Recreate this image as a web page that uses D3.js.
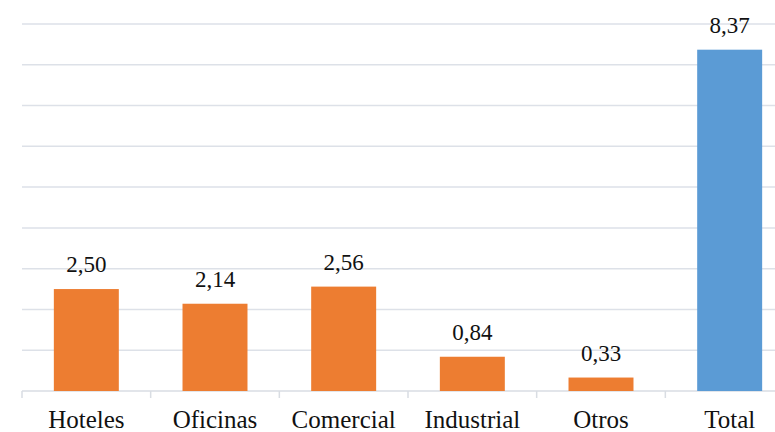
<!DOCTYPE html>
<html>
<head>
<meta charset="utf-8">
<script src="https://cdn.jsdelivr.net/npm/d3@7"></script>
<style>
  body { margin: 0; background: #fff; }
  text { font-family: "Liberation Serif", "DejaVu Serif", serif; fill: #111; }
</style>
</head>
<body>
<div id="chart"></div>
<script>
var categories = ['Hoteles', 'Oficinas', 'Comercial', 'Industrial', 'Otros', 'Total'];
var values = [2.50, 2.14, 2.56, 0.84, 0.33, 8.37];
var colors = ['#ED7D31', '#ED7D31', '#ED7D31', '#ED7D31', '#ED7D31', '#5B9BD5'];
var yTicks = [1, 2, 3, 4, 5, 6, 7, 8, 9];

var W = 775, H = 432,
  plotLeft = 22, plotRight = 794,
  plotTop = 24, plotBase = 391;

var svg = d3.select('#chart').append('svg')
  .attr('width', W)
  .attr('height', H);

var x = d3.scaleBand().domain(categories).range([plotLeft, plotRight]),
  y = d3.scaleLinear().domain([0, 9]).range([plotBase, plotTop]),
  fmt = function(v) { return d3.format('.2f')(v).replace('.', ','); };

// gridlines
svg.append('g').selectAll('line')
  .data(yTicks)
  .enter().append('line')
    .attr('x1', plotLeft).attr('x2', plotRight)
    .attr('y1', function(d) { return y(d); })
    .attr('y2', function(d) { return y(d); })
    .attr('stroke', '#dde1e8')
    .attr('stroke-width', 1.5);

// baseline with ticks between categories
var axis = svg.append('g').attr('transform', 'translate(0,' + plotBase + ')');
axis.append('line')
  .attr('x1', plotLeft).attr('x2', plotRight)
  .attr('stroke', '#d9dde3').attr('stroke-width', 1.5);
axis.selectAll('.tk')
  .data(categories.concat(['__end']))
  .enter().append('line')
    .attr('class', 'tk')
    .attr('x1', function(d, i) { return plotLeft + i * x.step(); })
    .attr('x2', function(d, i) { return plotLeft + i * x.step(); })
    .attr('y1', 0).attr('y2', 7)
    .attr('stroke', '#d9dde3').attr('stroke-width', 1.5);

axis.selectAll('.lab')
  .data(categories)
  .enter().append('text')
    .attr('class', 'lab')
    .attr('x', function(d) { return x(d) + x.bandwidth() / 2; })
    .attr('y', 37)
    .attr('text-anchor', 'middle')
    .style('font-size', '25px')
    .text(function(d) { return d; });

var bw = x.bandwidth() * 0.505;
var data = categories.map(function(c, i) { return { cat: c, v: values[i], color: colors[i] }; });

svg.append('g').selectAll('rect')
  .data(data)
  .enter().append('rect')
    .attr('x', function(d) { return x(d.cat) + (x.bandwidth() - bw) / 2; })
    .attr('y', function(d) { return y(d.v); })
    .attr('width', bw)
    .attr('height', function(d) { return plotBase - y(d.v); })
    .attr('fill', function(d) { return d.color; });

svg.append('g').selectAll('text')
  .data(data)
  .enter().append('text')
    .attr('x', function(d) { return x(d.cat) + x.bandwidth() / 2; })
    .attr('y', function(d) { return y(d.v) - 17; })
    .attr('text-anchor', 'middle')
    .style('font-size', '23px')
    .text(function(d) { return fmt(d.v); });
</script>
</body>
</html>
